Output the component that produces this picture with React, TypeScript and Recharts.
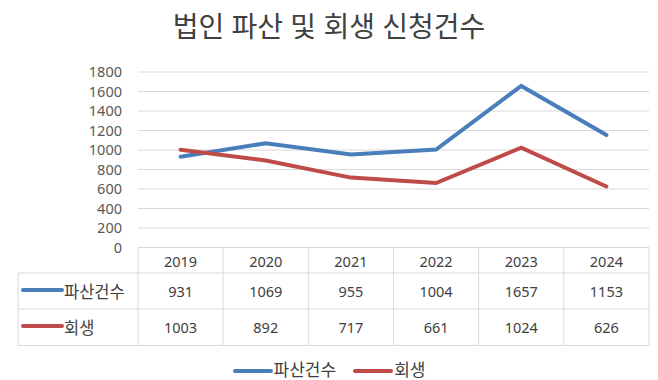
import React from 'react';
import { LineChart, Line, XAxis, YAxis, CartesianGrid, Legend } from 'recharts';

const TITLE = '법인 파산 및 회생 신청건수';
const years = ['2019', '2020', '2021', '2022', '2023', '2024'];
const bankruptcy = [931, 1069, 955, 1004, 1657, 1153];
const rehabilitation = [1003, 892, 717, 661, 1024, 626];
const seriesNames = ['파산건수', '회생'];
const seriesColors = ['#4A7EBB', '#BE4B48'];
const yTicks = [0, 200, 400, 600, 800, 1000, 1200, 1400, 1600, 1800];

const data = years.map((y, i) => ({ year: y, a: bankruptcy[i], b: rehabilitation[i] }));
const seriesValues = [bankruptcy, rehabilitation];

const W = 658;
const H = 380;
const PLOT_LEFT = 138;
const PLOT_RIGHT = 649;
const BAND = (PLOT_RIGHT - PLOT_LEFT) / years.length;
const FONT = '"Noto Sans", "Noto Sans CJK KR", sans-serif';
const GRID = '#D9D9D9';
const TEXT = '#404040';

const TableTick = (props: any) => {
  const { x, y, index, payload } = props;
  const half = BAND / 2;
  const left = x - half;
  const right = x + half;
  const r1 = y + 25.5;
  const r2 = y + 61.5;
  const r3 = y + 98;
  const last = index === years.length - 1;
  const labelLeft = PLOT_LEFT - 120;
  const c0 = y + 13;
  const c1 = y + 43.5;
  const c2 = y + 79.5;
  return (
    <g>
      <line x1={left} x2={right} y1={y} y2={y} stroke={GRID} strokeWidth={1} />
      <line x1={left} x2={right} y1={r1} y2={r1} stroke={GRID} strokeWidth={1} />
      <line x1={left} x2={right} y1={r2} y2={r2} stroke={GRID} strokeWidth={1} />
      <line x1={left} x2={right} y1={r3} y2={r3} stroke={GRID} strokeWidth={1} />
      <line x1={left} x2={left} y1={y} y2={r3} stroke={GRID} strokeWidth={1} />
      {last && <line x1={right} x2={right} y1={y} y2={r3} stroke={GRID} strokeWidth={1} />}
      <text x={x} y={c0} textAnchor="middle" dominantBaseline="central" fontSize={14.5} fill={TEXT} fontFamily={FONT}>
        {payload.value}
      </text>
      {seriesValues.map((vals, si) => (
        <text key={si} x={x} y={si === 0 ? c1 : c2} textAnchor="middle" dominantBaseline="central" fontSize={14.5} fill={TEXT} fontFamily={FONT}>
          {vals[index]}
        </text>
      ))}
      {index === 0 && (
        <g>
          <line x1={labelLeft} x2={left} y1={r1} y2={r1} stroke={GRID} strokeWidth={1} />
          <line x1={labelLeft} x2={left} y1={r2} y2={r2} stroke={GRID} strokeWidth={1} />
          <line x1={labelLeft} x2={left} y1={r3} y2={r3} stroke={GRID} strokeWidth={1} />
          <line x1={labelLeft} x2={labelLeft} y1={r1} y2={r3} stroke={GRID} strokeWidth={1} />
          {seriesNames.map((n, si) => {
            const cy = si === 0 ? c1 : c2;
            return (
              <g key={n}>
                <line x1={labelLeft + 5} x2={labelLeft + 44} y1={cy - 1} y2={cy - 1} stroke={seriesColors[si]} strokeWidth={4} strokeLinecap="round" />
                <text x={labelLeft + 46} y={cy} dominantBaseline="central" fontSize={16.5} fill={TEXT} fontFamily={FONT}>
                  {n}
                </text>
              </g>
            );
          })}
        </g>
      )}
    </g>
  );
};

const LegendContent = () => (
  <div style={{ height: 30, position: 'relative', fontFamily: FONT }}>
    <div style={{ position: 'absolute', left: 0, right: 0, top: 14, display: 'flex', justifyContent: 'center' }}>
      {seriesNames.map((n, i) => (
        <div key={n} style={{ display: 'flex', alignItems: 'center', marginRight: i === 0 ? 17 : 0, height: 20 }}>
          <div style={{ width: 40, height: 4, borderRadius: 2, background: seriesColors[i], marginRight: 1, marginTop: 2 }} />
          <span style={{ fontSize: 17, color: TEXT, lineHeight: '20px' }}>{n}</span>
        </div>
      ))}
    </div>
  </div>
);

export default function App() {
  return (
    <div style={{ position: 'absolute', left: 0, top: 0, width: W, height: H, background: '#fff' }}>
      <div style={{ position: 'absolute', left: 0, width: W, top: 11, textAlign: 'center', fontFamily: FONT, fontSize: 28, lineHeight: '30px', color: TEXT, whiteSpace: 'nowrap' }}>
        {TITLE}
      </div>
      <LineChart width={W} height={H} data={data} margin={{ top: 72, right: W - PLOT_RIGHT, bottom: 4.5, left: PLOT_LEFT - 60 }}>
        <CartesianGrid horizontal vertical={false} stroke={GRID} strokeWidth={1} />
        <XAxis
          dataKey="year"
          type="category"
          interval={0}
          height={98}
          tickSize={0}
          tickMargin={0}
          axisLine={false}
          tickLine={false}
          padding={{ left: BAND / 2, right: BAND / 2 }}
          tick={<TableTick />}
        />
        <YAxis
          width={60}
          domain={[0, 1800]}
          ticks={yTicks}
          interval={0}
          axisLine={false}
          tickLine={false}
          tickSize={0}
          tickMargin={16}
          tick={{ fontSize: 14.5, fill: '#595959', fontFamily: FONT }}
        />
        <Legend verticalAlign="bottom" content={<LegendContent />} wrapperStyle={{ left: 0, width: W }} />
        <Line type="linear" dataKey="a" name={seriesNames[0]} stroke={seriesColors[0]} strokeWidth={4} dot={false} isAnimationActive={false} strokeLinecap="round" />
        <Line type="linear" dataKey="b" name={seriesNames[1]} stroke={seriesColors[1]} strokeWidth={4} dot={false} isAnimationActive={false} strokeLinecap="round" />
      </LineChart>
    </div>
  );
}
